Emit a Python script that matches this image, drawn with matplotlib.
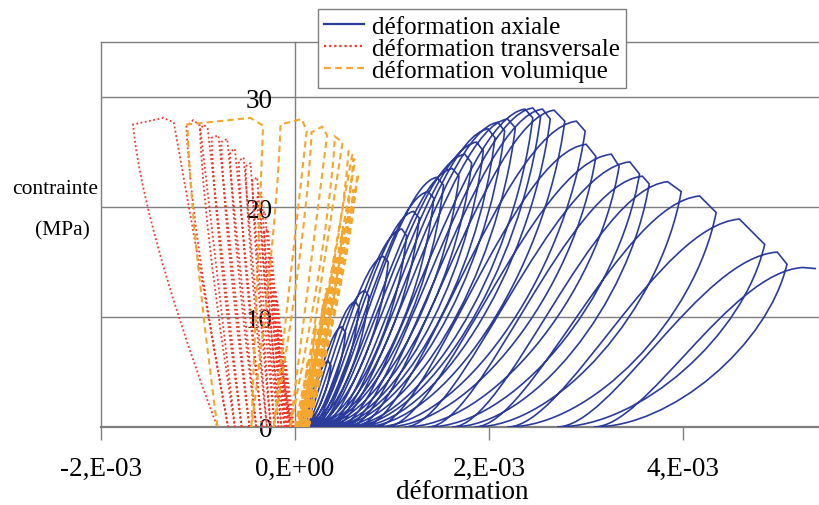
import matplotlib
matplotlib.use("Agg")
import matplotlib.pyplot as plt
from matplotlib.path import Path
from matplotlib.patches import PathPatch
from matplotlib.lines import Line2D

plt.rcParams['font.family'] = ['Liberation Serif', 'DejaVu Serif']

EPS = 1e-3  # strains below are given in units of 1e-3

# ---------------- axial strain cycles ----------------
ax_start = [0.02, 0.04, 0.06, 0.08, 0.10, 0.12, 0.14, 0.16, 0.18, 0.20, 0.21, 0.25, 0.30, 0.34, 0.38,
            0.44, 0.50, 0.55, 0.62, 0.69, 0.82, 0.93, 1.13, 1.37, 1.62, 1.85, 2.19, 2.70, 3.08]
ax_top_e = [0.34, 0.48, 0.62, 0.72, 0.91, 1.10, 1.22, 1.37, 1.46, 1.62, 1.75, 1.87, 1.99, 2.09, 2.19,
            2.37, 2.45, 2.55, 2.67, 2.90, 3.00, 3.26, 3.45, 3.58, 3.84, 4.17, 4.58, 4.97, 5.23]
ax_top_s = [6.0, 9.1, 11.4, 12.4, 15.5, 18.0, 19.6, 21.4, 22.7, 23.5, 24.8, 25.9, 27.1, 27.7, 28.0,
            28.9, 29.0, 28.9, 28.8, 27.8, 25.7, 24.8, 24.1, 22.8, 22.3, 21.0, 18.9, 15.9, 14.5]
ax_corner_e = [0.37, 0.52, 0.66, 0.76, 0.96, 1.15, 1.28, 1.43, 1.53, 1.69, 1.82, 1.94, 2.06, 2.16, 2.27,
               2.45, 2.53, 2.63, 2.78, 2.99, 3.10, 3.34, 3.55, 3.65, 3.98, 4.34, 4.84, 5.07, 5.37]
ax_corner_s = [5.6, 8.6, 10.9, 11.9, 15.0, 17.4, 19.0, 20.8, 22.0, 22.8, 24.0, 25.1, 26.3, 26.9, 27.2,
               28.1, 28.2, 28.0, 27.8, 26.9, 24.6, 23.7, 23.0, 22.1, 21.4, 19.5, 16.6, 14.8, 14.4]

# ---------------- transverse strain cycles ----------------
tr_start = [-0.01, -0.03, -0.05, -0.07, -0.09, -0.11, -0.14, -0.17, -0.21, -0.25, -0.29, -0.34,
            -0.40, -0.47, -0.55, -0.62, -0.69, -0.80]
tr_top_e = [-0.10, -0.15, -0.18, -0.20, -0.24, -0.28, -0.31, -0.35, -0.39, -0.46, -0.53, -0.62,
            -0.70, -0.79, -0.90, -0.98, -1.25]
tr_top_s = [6.0, 9.1, 11.4, 12.4, 15.5, 18.0, 19.6, 21.4, 22.7, 24.0, 24.5, 25.3, 26.2, 26.5, 27.1, 27.4, 27.7]
tr_peak_e = [None] * 14 + [-0.94, -1.05, -1.36]
tr_peak_s = [None] * 14 + [27.5, 27.9, 28.1]
tr_corner_e = [-0.13, -0.18, -0.21, -0.23, -0.27, -0.32, -0.35, -0.39, -0.44, -0.51, -0.58, -0.67,
               -0.76, -0.86, -0.98, -1.12, -1.67]
tr_corner_s = [5.7, 8.8, 11.1, 12.1, 15.2, 17.7, 19.3, 21.1, 22.4, 23.7, 24.2, 25.0, 25.9, 26.3, 27.0, 27.3, 27.5]

# ---------------- volumetric strain cycles ----------------
vo_start = [0.00, 0.02, 0.04, 0.06, 0.08, 0.10, 0.12, 0.13, 0.14, 0.12, 0.09, 0.04, -0.05, -0.22, -0.45, -0.80]
vo_top_e = [0.14, 0.22, 0.30, 0.33, 0.42, 0.50, 0.56, 0.61, 0.65, 0.62, 0.59, 0.49, 0.33, 0.12, -0.33]
vo_top_s = [6.0, 9.1, 11.4, 12.4, 15.5, 18.0, 19.6, 21.4, 22.8, 24.2, 24.8, 25.9, 26.5, 26.9, 27.4]
vo_peak_e = [None] * 12 + [0.28, 0.07, -0.46]
vo_peak_s = [None] * 12 + [27.3, 28.0, 28.1]
vo_corner_e = [0.13, 0.21, 0.29, 0.32, 0.41, 0.49, 0.55, 0.60, 0.64, 0.60, 0.55, 0.41, 0.17, -0.15, -1.11]
vo_corner_s = [6.2, 9.3, 11.6, 12.6, 15.7, 18.2, 19.8, 21.6, 23.0, 24.4, 25.1, 26.4, 26.8, 27.5, 27.5]

x_ticks = [-2, 0, 2, 4]
x_tick_labels = ['-2,E-03', '0,E+00', '2,E-03', '4,E-03']
y_ticks = [0, 10, 20, 30]
y_tick_labels = ['0', '10', '20', '30']
labels = ['déformation axiale', 'déformation transversale', 'déformation volumique']

BLUE = '#2B3C9C'
RED = '#EE3A2C'
ORANGE = '#F4A62E'
GRAY = '#7F7F7F'


def cycle_path(starts, top_e, top_s, corner_e, corner_s, rel, unl, peak_e=None, peak_s=None):
    verts, codes = [], []
    n = len(top_e)
    for i in range(n):
        r0 = starts[i]
        a, sa = top_e[i], top_s[i]
        w = a - r0
        verts += [(r0 * EPS, 0.0),
                  ((r0 + rel[0] * w) * EPS, rel[1] * sa),
                  ((r0 + rel[2] * w) * EPS, rel[3] * sa),
                  (a * EPS, sa)]
        codes += [Path.MOVETO, Path.CURVE4, Path.CURVE4, Path.CURVE4]
        if peak_e is not None and peak_e[i] is not None:
            verts.append((peak_e[i] * EPS, peak_s[i]))
            codes.append(Path.LINETO)
        b, sb = corner_e[i], corner_s[i]
        verts.append((b * EPS, sb))
        codes.append(Path.LINETO)
        if i + 1 < len(starts):
            r1 = starts[i + 1]
            u = b - r1
            verts += [((r1 + unl[2] * u) * EPS, unl[3] * sb),
                      ((r1 + unl[0] * u) * EPS, unl[1] * sb),
                      (r1 * EPS, 0.0)]
            codes += [Path.CURVE4, Path.CURVE4, Path.CURVE4]
    return Path(verts, codes)


fig = plt.figure(figsize=(8.19, 5.06), dpi=100)
L, R, B, T = 101 / 819, 1.0, 78 / 506, 463 / 506
ax = fig.add_axes([L, B, R - L, T - B])
ax.set_xlim(-2.0 * EPS, 5.4 * EPS)
ax.set_ylim(0, 35)

# series (Excel order: axial, transverse, volumetric)
p_ax = cycle_path(ax_start, ax_top_e, ax_top_s, ax_corner_e, ax_corner_s,
                  rel=(0.25, 0.0, 0.65, 0.97), unl=(0.4, 0.0, 0.9, 0.5))
ax.add_patch(PathPatch(p_ax, fill=False, edgecolor=BLUE, lw=1.2, zorder=3))
p_tr = cycle_path(tr_start, tr_top_e, tr_top_s, tr_corner_e, tr_corner_s,
                  rel=(0.3, 0.3, 0.75, 0.75), unl=(0.3, 0.22, 0.9, 0.7),
                  peak_e=tr_peak_e, peak_s=tr_peak_s)
ax.add_patch(PathPatch(p_tr, fill=False, edgecolor=RED, lw=1.3, linestyle=(0, (1, 1.4)), zorder=4))
p_vo = cycle_path(vo_start, vo_top_e, vo_top_s, vo_corner_e, vo_corner_s,
                  rel=(0.3, 0.3, 0.75, 0.75), unl=(0.3, 0.22, 0.9, 0.7),
                  peak_e=vo_peak_e, peak_s=vo_peak_s)
ax.add_patch(PathPatch(p_vo, fill=False, edgecolor=ORANGE, lw=1.5, linestyle=(0, (3, 2)), zorder=5))

# axes styling
ax.spines['right'].set_visible(False)
ax.spines['top'].set_color(GRAY)
ax.spines['top'].set_linewidth(1.0)
ax.spines['left'].set_position(('data', 0))
ax.spines['left'].set_color(GRAY)
ax.spines['left'].set_linewidth(1.0)
ax.spines['bottom'].set_color(GRAY)
ax.spines['bottom'].set_linewidth(1.6)
ax.axvline(-2.0 * EPS, color=GRAY, lw=1.0, clip_on=False, zorder=1)
ax.yaxis.grid(True, color=GRAY, lw=1.0, zorder=0)
ax.set_axisbelow(True)

ax.set_xticks([v * EPS for v in x_ticks])
ax.set_xticklabels(x_tick_labels, fontsize=19.5)
ax.set_yticks(y_ticks)
ax.set_yticklabels(y_tick_labels, fontsize=19.5)
ax.tick_params(axis='x', direction='out', length=9, width=1.0, color=GRAY, pad=12)
ax.tick_params(axis='y', length=0, pad=16)

fig.text(462 / 819, 1 - 493 / 506, 'déformation', fontsize=19.5, ha='center', va='center')
fig.text(55 / 819, 1 - 190 / 506, 'contrainte', fontsize=15.5, ha='center', va='center')
fig.text(62 / 819, 1 - 231 / 506, '(MPa)', fontsize=15.5, ha='center', va='center')

handles = [Line2D([], [], color=BLUE, lw=1.6),
           Line2D([], [], color=RED, lw=1.6, linestyle=(0, (1, 1.3))),
           Line2D([], [], color=ORANGE, lw=1.6, linestyle=(0, (3, 2)))]
leg = fig.legend(handles, labels, loc='upper left', bbox_to_anchor=(318 / 819, 1 - 10 / 506),
                 fontsize=18, frameon=True, fancybox=False, framealpha=1,
                 edgecolor=GRAY, labelspacing=-0.02, handlelength=1.6, handletextpad=0.3,
                 borderpad=0.25, borderaxespad=0)
leg.get_frame().set_linewidth(1.0)

fig.savefig('out.png', dpi=100)
